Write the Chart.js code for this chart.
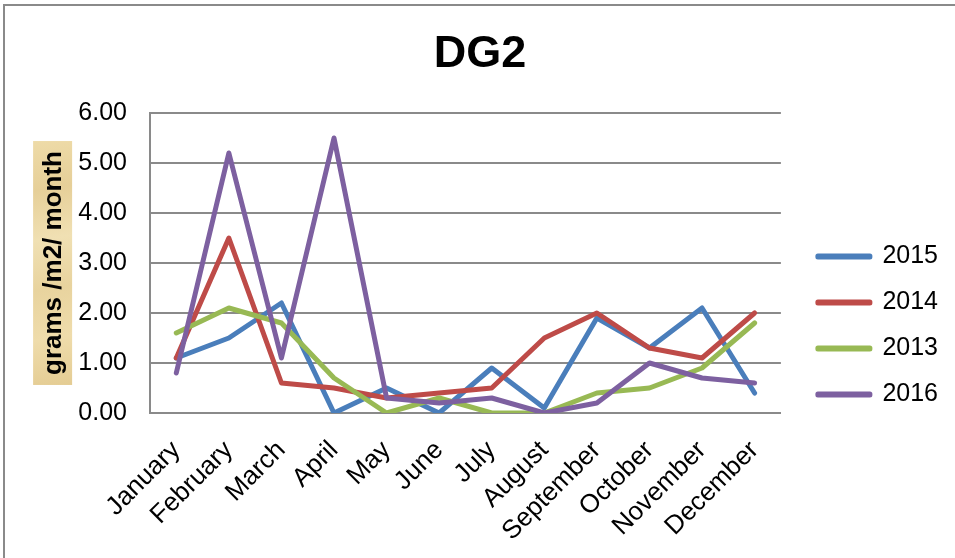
<!DOCTYPE html>
<html>
<head>
<meta charset="utf-8">
<script src="https://cdn.jsdelivr.net/npm/chart.js@4/dist/chart.umd.min.js"></script>
<style>
  html, body { margin: 0; padding: 0; background: #ffffff; }
  #wrap { position: relative; width: 955px; height: 558px; }
  #frame { position: absolute; left: 3px; top: 4px; right: 0; bottom: 0;
           border-top: 2px solid #8a8a8a; border-left: 2px solid #8a8a8a; }
  canvas { position: absolute; left: 0; top: 0; }
</style>
</head>
<body>
<div id="wrap">
  <div id="frame"></div>
  <canvas id="c" width="955" height="558"></canvas>
</div>
<script>
// ---- data ----
const months = ["January","February","March","April","May","June","July","August","September","October","November","December"];
const seriesNames = ["2015","2014","2013","2016"];
const values2015 = [1.1, 1.5, 2.2, 0.0, 0.5, 0.0, 0.9, 0.1, 1.9, 1.3, 2.1, 0.4];
const values2014 = [1.1, 3.5, 0.6, 0.5, 0.3, 0.4, 0.5, 1.5, 2.0, 1.3, 1.1, 2.0];
const values2013 = [1.6, 2.1, 1.8, 0.7, 0.0, 0.3, 0.0, 0.0, 0.4, 0.5, 0.9, 1.8];
const values2016 = [0.8, 5.2, 1.1, 5.5, 0.3, 0.2, 0.3, 0.0, 0.2, 1.0, 0.7, 0.6];
const yTicks = [0, 1, 2, 3, 4, 5, 6];
const chartTitle = "DG2";
const yTitle = "grams /m2/ month";

// ---- styles ----
const FONT = 'Arial, "Liberation Sans", Helvetica, sans-serif';
const colors = ["#4A7EBB", "#BE4B48", "#98B954", "#7D60A0"];
const seriesValues = [values2015, values2014, values2013, values2016];
const Y_TITLE_SIZE = 26;
const Y_TITLE_PAD = 26;

const yTitleBg = {
  id: 'yTitleBg',
  beforeDraw(chart) {
    const s = chart.scales.y;
    const ctx = chart.ctx;
    const lh = Y_TITLE_SIZE * 1.2;
    const cx = s.left + lh / 2 + Y_TITLE_PAD;
    const cy = (s.top + s.bottom) / 2;
    ctx.save();
    ctx.font = 'bold ' + Y_TITLE_SIZE + 'px ' + FONT;
    const tw = ctx.measureText(yTitle).width;
    const w = 39, h = tw + 20;
    const x0 = cx - w / 2 - 1, y0 = cy - h / 2;
    const g = ctx.createLinearGradient(x0, y0, x0 + w, y0 + h);
    g.addColorStop(0, '#eedba8');
    g.addColorStop(0.2, '#e6cf98');
    g.addColorStop(0.4, '#f0e0b3');
    g.addColorStop(0.6, '#e8d39e');
    g.addColorStop(0.8, '#efdcab');
    g.addColorStop(1, '#e4cc93');
    ctx.fillStyle = g;
    ctx.fillRect(x0, y0, w, h);
    ctx.restore();
  }
};

new Chart(document.getElementById('c'), {
  type: 'line',
  data: {
    labels: months,
    datasets: seriesNames.map((n, i) => ({
      label: n,
      data: seriesValues[i],
      borderColor: colors[i],
      backgroundColor: colors[i],
      borderWidth: 5,
      pointRadius: 0,
      pointHoverRadius: 0,
      tension: 0,
      borderJoinStyle: 'round',
      borderCapStyle: 'round',
      fill: false,
      order: seriesNames.length - i
    }))
  },
  options: {
    responsive: false,
    animation: false,
    devicePixelRatio: 1,
    layout: { padding: { left: 12, right: 7, top: 0, bottom: 0 } },
    plugins: {
      title: {
        display: true,
        text: chartTitle,
        color: '#000000',
        font: { family: FONT, size: 45, weight: 'bold' },
        padding: { top: 28, bottom: 31 }
      },
      legend: {
        display: true,
        position: 'right',
        align: 'center',
        title: {
          display: true,
          text: ' ',
          font: { family: FONT, size: 10 },
          padding: { top: 81, bottom: 0 }
        },
        labels: {
          color: '#000000',
          font: { family: FONT, size: 25 },
          boxWidth: 52,
          boxHeight: 1,
          padding: 21,
          sort: (a, b) => a.datasetIndex - b.datasetIndex
        }
      },
      tooltip: { enabled: false }
    },
    scales: {
      x: {
        type: 'category',
        offset: true,
        grid: { display: false, drawTicks: false },
        border: { display: true, color: '#8a8a8a', width: 2 },
        ticks: {
          color: '#000000',
          font: { family: FONT, size: 26 },
          minRotation: 45,
          maxRotation: 45,
          autoSkip: false,
          padding: 22
        },
        afterFit(scale) { scale.height = 145; }
      },
      y: {
        type: 'linear',
        position: 'left',
        min: 0,
        max: 6,
        afterBuildTicks(scale) { scale.ticks = yTicks.map(v => ({ value: v })); },
        grid: { color: '#8a8a8a', lineWidth: 2, drawTicks: false },
        border: { display: true, color: '#8a8a8a', width: 2 },
        ticks: {
          color: '#000000',
          font: { family: FONT, size: 25 },
          padding: 23,
          callback: (v) => Number(v).toFixed(2)
        },
        title: {
          display: true,
          text: yTitle,
          color: '#000000',
          font: { family: FONT, size: Y_TITLE_SIZE, weight: 'bold' },
          padding: { top: Y_TITLE_PAD, bottom: 0 }
        },
        afterFit(scale) { scale.width = 138; }
      },
      y2: {
        type: 'linear',
        position: 'right',
        display: true,
        grid: { display: false, drawTicks: false },
        border: { display: false },
        ticks: { display: false },
        afterFit(scale) { scale.width = 16; }
      }
    }
  },
  plugins: [yTitleBg]
});
</script>
</body>
</html>
